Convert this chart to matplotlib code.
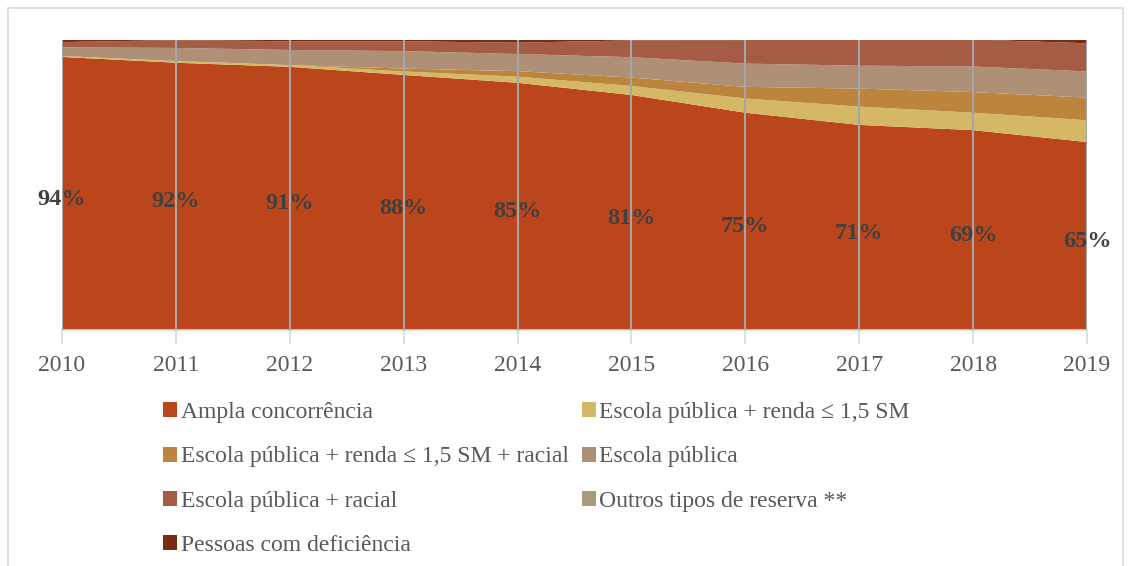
import matplotlib
matplotlib.use('Agg')
import matplotlib.pyplot as plt
from matplotlib.patches import Rectangle
from matplotlib.transforms import offset_copy

plt.rcParams['font.family'] = ['Liberation Serif', 'DejaVu Serif']

# ------------------------------------------------------------
# dados (% das vagas por tipo de reserva)
# ------------------------------------------------------------
anos = [2010, 2011, 2012, 2013, 2014, 2015, 2016, 2017, 2018, 2019]

ampla        = [94.0, 92.0, 90.6, 87.8, 85.1, 80.9, 74.8, 70.6, 68.8, 64.7]
ep_renda     = [0.3, 0.6, 0.6, 1.2, 2.1, 3.1, 4.9, 6.3, 6.0, 7.5]
ep_renda_rac = [0.0, 0.0, 0.0, 1.0, 1.9, 2.9, 4.0, 6.2, 7.1, 7.8]
ep           = [3.0, 4.5, 5.2, 6.0, 5.9, 7.0, 8.0, 7.9, 8.8, 9.0]
ep_racial    = [1.8, 2.7, 3.0, 3.4, 3.9, 5.8, 8.1, 9.0, 9.3, 9.7]
outros       = [0.0, 0.0, 0.0, 0.0, 0.0, 0.0, 0.0, 0.0, 0.0, 0.0]
pcd          = [0.9, 0.2, 0.6, 0.6, 1.1, 0.3, 0.2, 0.0, 0.0, 1.3]

nomes = ['Ampla concorrência',
         'Escola pública + renda ≤ 1,5 SM',
         'Escola pública + renda ≤ 1,5 SM + racial',
         'Escola pública',
         'Escola pública + racial',
         'Outros tipos de reserva **',
         'Pessoas com deficiência']
cores = ['#BB461C', '#D4B865', '#BD843E', '#AD9075', '#A65B45', '#A99B7C', '#7A2C12']

# ------------------------------------------------------------
# gráfico
# ------------------------------------------------------------
fig = plt.figure(figsize=(11.3, 5.66), dpi=100)
ax = fig.add_axes([62 / 1130, 1 - 330 / 566, (1087 - 62) / 1130, (330 - 39.5) / 566])

polys = ax.stackplot(anos, ampla, ep_renda, ep_renda_rac, ep, ep_racial, outros, pcd,
                     colors=cores, labels=nomes, linewidth=0)

ax.set_xlim(2010, 2019)
ax.set_ylim(0, 100)
ax.set_yticks([])
ax.set_xticks(anos)
ax.set_xticklabels([str(a) for a in anos], fontsize=17, color='#595959')
ax.tick_params(axis='x', length=10, width=1.2, color='#D9D9D9', pad=8)
for s in ['left', 'right', 'top']:
    ax.spines[s].set_visible(False)
ax.spines['bottom'].set_color('#D9D9D9')
ax.spines['bottom'].set_linewidth(1.2)

for a in anos:
    ax.axvline(a, color='#A6A6A6', lw=1.5, zorder=3)

# rótulos um pouco abaixo do meio da área
trans = offset_copy(ax.transData, fig=fig, x=0, y=-4, units='points')
for a, v in zip(anos, ampla):
    ax.text(a, v / 2, f'{round(v)}%', ha='center', va='center', fontsize=17.5,
            fontweight='bold', color='#404040', zorder=4, clip_on=False,
            transform=trans)

# legenda em ordem por linha (2 colunas)
ordem = [0, 2, 4, 6, 1, 3, 5]
fig.legend([polys[i] for i in ordem], [nomes[i] for i in ordem],
           ncol=2, loc='upper left', bbox_to_anchor=(163 / 1130, 1 - 402 / 566),
           frameon=False, fontsize=17, labelcolor='#595959',
           handlelength=0.6, handleheight=0.6, handletextpad=0.15,
           columnspacing=0.55, labelspacing=0.99, borderpad=0, borderaxespad=0)

# moldura do gráfico
fig.patches.append(Rectangle((8 / 1130, -0.05), (1123 - 8) / 1130, 1.05 - 8 / 566,
                             transform=fig.transFigure, fill=False,
                             edgecolor='#D9D9D9', lw=1.2))

plt.savefig('out.png', dpi=100)
plt.close()
